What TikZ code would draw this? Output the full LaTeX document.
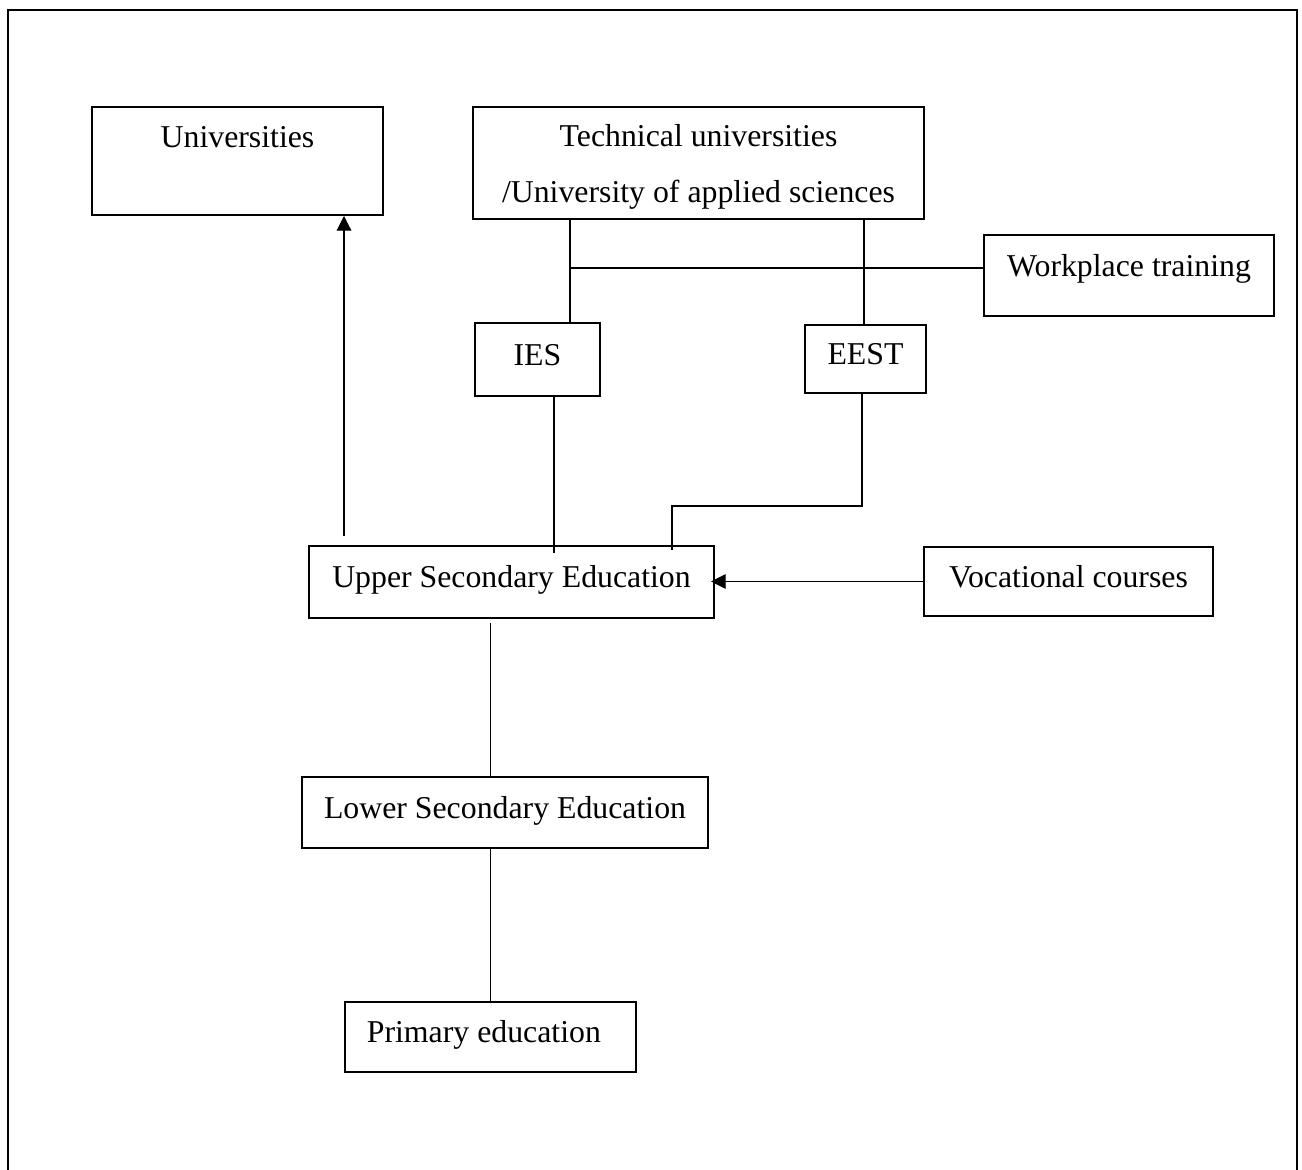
\documentclass[tikz,border=0pt]{standalone}
\usepackage{fontspec}
\setmainfont{Liberation Serif}
\usetikzlibrary{arrows.meta}
\newcommand{\pxl}{0.3774pt}
\tikzset{
	box/.style={draw, line width=0.75pt, inner sep=0pt, font=\fontsize{12}{17.4}\selectfont},
	mid/.style={text height=8pt, text depth=3.5pt},
	link/.style={line width=0.42pt},
	arr/.style={link, -{Triangle[length=5.5pt,width=5.5pt]}},
}

\begin{document}
\begin{tikzpicture}[x=\pxl, y=-\pxl]
			%%%%% START %%%%%
			\useasboundingbox (0,0) rectangle (1302,1170);
			\draw[line width=1.1pt] (8,1180) -- (8,10) -- (1297,10) -- (1297,1180);
			
			\node[box, mid, minimum width=291*\pxl, minimum height=108*\pxl, text depth=18.2pt] (univ) at (237.5,161) {Universities};
			\node[box, minimum width=451*\pxl, minimum height=112*\pxl, align=center, font=\fontsize{12}{21}\selectfont] (tech) at (698.5,163) {\rule{0pt}{11.3pt}Technical universities\\/University of applied sciences};
			\node[box, mid, minimum width=290*\pxl, minimum height=81*\pxl, text depth=7.2pt] (work) at (1129,275.5) {Workplace training};
			
			\node[box, mid, minimum width=125*\pxl, minimum height=73*\pxl] (ies) at (537.5,359.5) {IES};
			\node[box, mid, minimum width=121*\pxl, minimum height=68*\pxl] (eest) at (865.5,359) {EEST};
			
			\node[box, mid, minimum width=405*\pxl, minimum height=72*\pxl] (upper) at (511.5,582) {Upper Secondary Education};
			\node[box, mid, minimum width=289*\pxl, minimum height=69*\pxl] (voc) at (1068.5,581.5) {Vocational courses};
			\node[box, mid, minimum width=406*\pxl, minimum height=71*\pxl] (lower) at (505,812.5) {Lower Secondary Education};
			\node[box, mid, minimum width=291*\pxl, minimum height=70*\pxl] (prim) at (490.5,1037) {Primary education\makebox[5pt]{}};
			
			\coordinate (uarr) at (344,536);
			\draw[arr] (uarr) -- (uarr |- univ.south);
			
			\coordinate (jw) at (570,268);
			\coordinate (je) at (864,268);
			\draw[link] (tech.south -| jw) -- (ies.north -| jw);
			\draw[link] (tech.south -| je) -- (eest.north -| je);
			\draw[link] (jw) -- (jw -| work.west);
			
			\coordinate (ji) at (554,553);
			\draw[link] (ies.south -| ji) -- (ji);
			
			\coordinate (e1) at (862,506);
			\coordinate (e2) at (672,506);
			\draw[link] (eest.south -| e1) -- (e1) -- (e2) -- ++(0,44);
			
			\draw[arr, shorten >=-1.5pt] (voc.west) -- (voc.west -| upper.east);
			
			\draw[link, shorten <=1.5pt] (upper.south -| prim.north) -- (lower.north -| prim.north);
			\draw[link] (lower.south -| prim.north) -- (prim.north);
			%%%%% END %%%%%
\end{tikzpicture}
\end{document}
